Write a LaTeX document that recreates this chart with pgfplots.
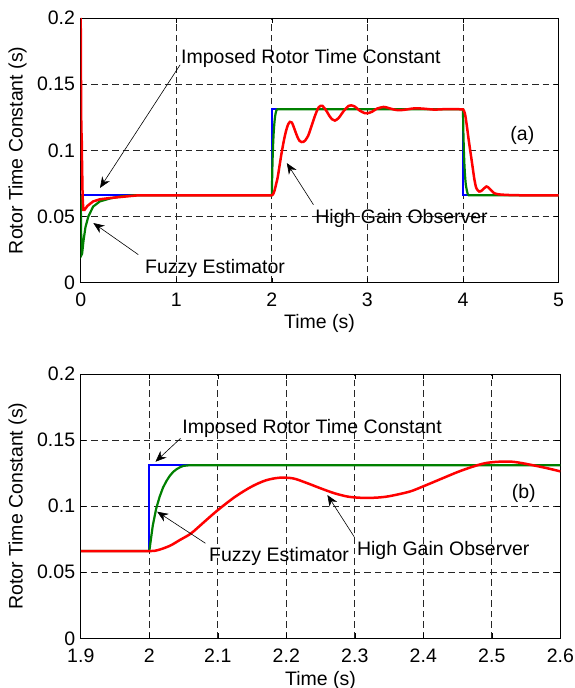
\documentclass[border=0pt]{standalone}
\usepackage{fontspec}
\setmainfont{Liberation Sans}
\usepackage{pgfplots}
\pgfplotsset{compat=1.18}
\usetikzlibrary{arrows.meta}
\definecolor{mblue}{rgb}{0,0,1}
\definecolor{mgreen}{rgb}{0,0.5,0}
\definecolor{mred}{rgb}{1,0,0}

\tikzset{ann/.style={-{Stealth[length=11pt,width=9pt]}, line width=0.6pt, black}}
\pgfplotsset{
  rtc/.style={
    scale only axis, anchor=south west,
    ymin=0, ymax=0.2,
    ytick={0,0.05,0.1,0.15,0.2},
    yticklabels={0,0.05,0.1,0.15,0.2},
    tick align=inside, major tick length=5pt,
    tick style={black, line width=0.6pt},
    axis line style={line width=0.9pt},
    grid=major,
    major grid style={black!85, line width=0.7pt, dash pattern=on 6.5pt off 4pt},
    tick label style={inner sep=0pt},
    yticklabel style={xshift=-5.5pt},
    xticklabel style={yshift=-10pt},
    every axis y label/.style={at={(axis description cs:-0.132,0.5)}, rotate=90, anchor=center},
    ylabel={Rotor Time Constant (s)},
    xlabel={Time (s)},
  },
}

\begin{document}
\fontsize{19.5}{22}\selectfont
\begin{tikzpicture}
\path[use as bounding box] (0,0) rectangle (574pt,688pt);

% (a) whole run
\begin{axis}[rtc,
  at={(80.7pt,405.3pt)}, width=477.8pt, height=264.7pt,
  xmin=0, xmax=5,
  xtick={0,1,2,3,4,5}, xticklabels={0,1,2,3,4,5},
  every axis x label/.style={at={(axis description cs:0.5,-0.155)}, anchor=center},
]
\addplot[mblue, line width=2pt] coordinates {
  (0,0.066)(2,0.066)(2,0.131)(4,0.131)(4,0.066)(5,0.066)};
\addplot[mgreen, line width=2.2pt] coordinates {
  (0,0.066)(0.004,0.04)(0.008,0.021)(0.015,0.022)(0.03,0.032)(0.05,0.042)
  (0.08,0.050)(0.13,0.0575)(0.2,0.0614)(0.31,0.0637)(0.42,0.0652)(0.55,0.066)
  (2.0,0.066)(2.005,0.085)(2.01,0.098)(2.015,0.107)(2.02,0.114)(2.025,0.119)
  (2.03,0.123)(2.035,0.126)(2.04,0.128)(2.045,0.1295)(2.05,0.1305)(2.06,0.131)
  (4.0,0.131)(4.005,0.112)(4.01,0.099)(4.015,0.09)(4.02,0.083)(4.025,0.078)
  (4.03,0.074)(4.04,0.070)(4.05,0.067)(4.06,0.066)(5,0.066)};
\addplot[mred, line width=2.5pt] coordinates {
  (0,0.2)(0.004,0.14)(0.007,0.11)(0.01,0.113)(0.014,0.09)(0.02,0.065)
  (0.027,0.055)(0.04,0.055)(0.07,0.058)(0.13,0.0614)(0.2,0.063)(0.31,0.064)
  (0.48,0.0652)(0.6,0.066)(2.0,0.066)};
\addplot[mred, line width=2.5pt, smooth] coordinates {
  (2.0,0.066)(2.013,0.0668)(2.03,0.07)(2.045,0.0745)(2.061,0.0794)(2.08,0.088)
  (2.1,0.097)(2.125,0.107)(2.149,0.1147)(2.17,0.1195)(2.19,0.1215)(2.21,0.121)
  (2.23,0.1175)(2.25,0.1135)(2.27,0.1098)(2.29,0.1072)(2.31,0.1063)(2.33,0.1064)
  (2.35,0.1075)(2.38,0.111)(2.4,0.115)(2.43,0.1215)(2.45,0.1258)(2.47,0.1295)
  (2.49,0.1325)(2.51,0.1336)(2.53,0.1336)(2.55,0.132)(2.58,0.1288)(2.6,0.1263)
  (2.63,0.1235)(2.66,0.1225)(2.7,0.1245)(2.75,0.1295)(2.8,0.1335)(2.83,0.134)
  (2.87,0.133)(2.92,0.130)(2.97,0.1282)(3.0,0.128)(3.05,0.1292)(3.1,0.1315)
  (3.17,0.1328)(3.22,0.132)(3.28,0.1308)(3.34,0.1303)(3.42,0.131)(3.5,0.1318)
  (3.6,0.1314)(3.7,0.1308)(3.8,0.1311)(3.9,0.1312)(3.98,0.131)(4.0,0.131)
  (4.02,0.128)(4.04,0.119)(4.06,0.108)(4.08,0.098)(4.1,0.088)(4.12,0.078)
  (4.14,0.0715)(4.17,0.0689)(4.2,0.0698)(4.245,0.0727)(4.28,0.071)(4.32,0.068)
  (4.37,0.0668)(4.5,0.0662)(4.7,0.066)(5,0.066)};
\node[anchor=base west, inner sep=0pt] at (axis cs:1.05,0.1655) {Imposed Rotor Time Constant};
\draw[ann] (axis cs:1.041,0.1647) -- (axis cs:0.202,0.0716);
\node[anchor=base west, inner sep=0pt] at (axis cs:0.673,0.0073) {Fuzzy Estimator};
\draw[ann] (axis cs:0.603,0.0212) -- (axis cs:0.132,0.0451);
\node[anchor=base west, inner sep=0pt] at (axis cs:2.454,0.0451) {High Gain Observer};
\draw[ann] (axis cs:2.436,0.0589) -- (axis cs:2.157,0.0904);
\node[anchor=base west, inner sep=0pt] at (axis cs:4.495,0.1073) {(a)};
\end{axis}

% (b) zoom on the step at t = 2 s
\begin{axis}[rtc,
  at={(80.8pt,49.7pt)}, width=479.5pt, height=264.3pt,
  xmin=1.9, xmax=2.6,
  xtick={1.9,2,2.1,2.2,2.3,2.4,2.5,2.6},
  xticklabels={1.9,2,2.1,2.2,2.3,2.4,2.5,2.6},
  every axis x label/.style={at={(axis description cs:0.5,-0.159)}, anchor=center},
]
\addplot[mblue, line width=2pt] coordinates {
  (1.9,0.066)(2,0.066)(2,0.131)(2.6,0.131)};
\addplot[mgreen, line width=2.2pt] coordinates {
  (1.9,0.066)(2.0,0.066)(2.005,0.085)(2.01,0.098)(2.015,0.107)(2.02,0.114)
  (2.025,0.119)(2.03,0.123)(2.035,0.126)(2.04,0.128)(2.045,0.1295)(2.05,0.1305)
  (2.06,0.131)(2.6,0.131)};
\addplot[mred, line width=2.5pt, smooth] coordinates {
  (1.9,0.066)(1.95,0.066)(2.0,0.066)(2.013,0.0668)(2.03,0.07)(2.045,0.0745)
  (2.061,0.0794)(2.08,0.088)(2.1,0.097)(2.125,0.107)(2.149,0.1147)(2.17,0.1195)
  (2.19,0.1215)(2.21,0.121)(2.23,0.1175)(2.25,0.1135)(2.27,0.1098)(2.29,0.1072)
  (2.31,0.1063)(2.33,0.1064)(2.35,0.1075)(2.38,0.111)(2.4,0.115)(2.43,0.1215)
  (2.45,0.1258)(2.47,0.1295)(2.49,0.1325)(2.51,0.1336)(2.53,0.1336)(2.55,0.132)
  (2.58,0.1288)(2.6,0.1263)};
\node[anchor=base west, inner sep=0pt] at (axis cs:2.048,0.1546) {Imposed Rotor Time Constant};
\draw[ann] (axis cs:2.0456,0.1513) -- (axis cs:2.009,0.1336);
\node[anchor=base west, inner sep=0pt] at (axis cs:2.087,0.058) {Fuzzy Estimator};
\draw[ann] (axis cs:2.082,0.0719) -- (axis cs:2.0115,0.0958);
\node[anchor=base west, inner sep=0pt] at (axis cs:2.303,0.0623) {High Gain Observer};
\draw[ann] (axis cs:2.299,0.0769) -- (axis cs:2.26,0.1084);
\node[anchor=base west, inner sep=0pt] at (axis cs:2.529,0.106) {(b)};
\end{axis}
\end{tikzpicture}
\end{document}
